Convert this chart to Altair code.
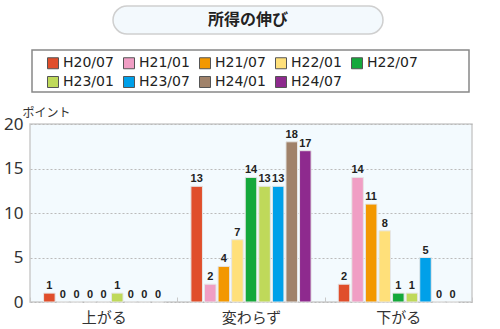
import altair as alt
import pandas as pd

categories = ["上がる", "変わらず", "下がる"]
series = ["H20/07", "H21/01", "H21/07", "H22/01", "H22/07",
          "H23/01", "H23/07", "H24/01", "H24/07"]
colors = ["#E04E2B", "#F09EC4", "#F39800", "#FFE07A", "#14A83B",
          "#BFD95A", "#00A0E9", "#A0826A", "#8E2A8E"]
up_vals = [1, 0, 0, 0, 0, 1, 0, 0, 0]
same_vals = [13, 2, 4, 7, 14, 13, 13, 18, 17]
down_vals = [2, 14, 11, 8, 1, 1, 5, 0, 0]
title_text = "所得の伸び"
y_ticks = [0, 5, 10, 15, 20]

rows = []
for cat, vals in zip(categories, [up_vals, same_vals, down_vals]):
    for s, v in zip(series, vals):
        rows.append({"cat": cat, "series": s, "value": v})
df = pd.DataFrame(rows)

JP = "Noto Sans CJK JP"

x = alt.X("cat:N", sort=categories,
          scale=alt.Scale(paddingInner=0, paddingOuter=0),
          axis=alt.Axis(title=None, labelAngle=0, labelFontSize=15, labelFont=JP,
                        labelColor="#333", domain=False, tickBand="extent",
                        tickSize=5, tickColor="#c8c8c8", offset=-5,
                        labelPadding=8, grid=False))
xoff = alt.XOffset("series:N", sort=series,
                   scale=alt.Scale(paddingInner=0.15,
                                   paddingOuter=alt.ExprRef(expr="1.23")))
y = alt.Y("value:Q", scale=alt.Scale(domain=[0, 20], nice=False),
          axis=alt.Axis(values=y_ticks, title="ポイント", titleAngle=0,
                        titleAlign="left", titleBaseline="bottom", titleX=-8,
                        titleY=-5, titleFontSize=12, titleFontWeight="normal",
                        titleFont=JP, titleColor="#333",
                        grid=True, gridDash=[2, 2], gridColor="#bbbbbb",
                        domain=False, ticks=False, labelFontSize=17,
                        labelFont="Noto Sans", labelColor="#333",
                        labelPadding=7))
color = alt.Color("series:N", sort=series,
                  scale=alt.Scale(domain=series, range=colors),
                  legend=alt.Legend(title=None, orient="none", legendX=16,
                                    legendY=-68, columns=5, direction="horizontal",
                                    symbolType="square",
                                    symbolSize=121, symbolStrokeColor="#555",
                                    symbolStrokeWidth=1, labelFontSize=14,
                                    labelFont="DejaVu Sans", labelColor="#222",
                                    columnPadding=7, rowPadding=3,
                                    labelOffset=3, padding=0))

bars = alt.Chart(df).mark_bar(stroke="#e6e6e6", strokeWidth=1).encode(
    x=x, xOffset=xoff, y=y, color=color)
labels = alt.Chart(df).mark_text(dy=-2, baseline="bottom", fontSize=11,
                                 fontWeight="bold", font="Liberation Sans",
                                 color="#222").encode(
    x=x, xOffset=xoff, y=y, text="value:Q")

tdf = pd.DataFrame({"t": [title_text]})
title_box = alt.Chart(tdf).mark_rect(cornerRadius=14, fill="#F3F9FD",
                                     stroke="#cfcfcf", strokeWidth=1.5).encode(
    x=alt.value(83), x2=alt.value(353), y=alt.value(-118), y2=alt.value(-90))
title_mark = alt.Chart(tdf).mark_text(fontSize=16, fontWeight="bold", font=JP,
                                      color="#222").encode(
    x=alt.value(218), y=alt.value(-104), text="t:N")
legend_box = alt.Chart(tdf).mark_rect(fill="white", stroke="#888",
                                      strokeWidth=1.5).encode(
    x=alt.value(2), x2=alt.value(439), y=alt.value(-74), y2=alt.value(-32))

chart = alt.layer(title_box, title_mark, legend_box, bars, labels).properties(
    width=442, height=178,
    autosize=alt.AutoSizeParams(type="none"),
    padding={"left": 30, "top": 124, "right": 28, "bottom": 27},
).configure_view(fill="#F3FAFE", stroke="#cccccc", strokeWidth=1.5)

chart.save("out.html", embed_options={"renderer": "svg", "actions": False})
